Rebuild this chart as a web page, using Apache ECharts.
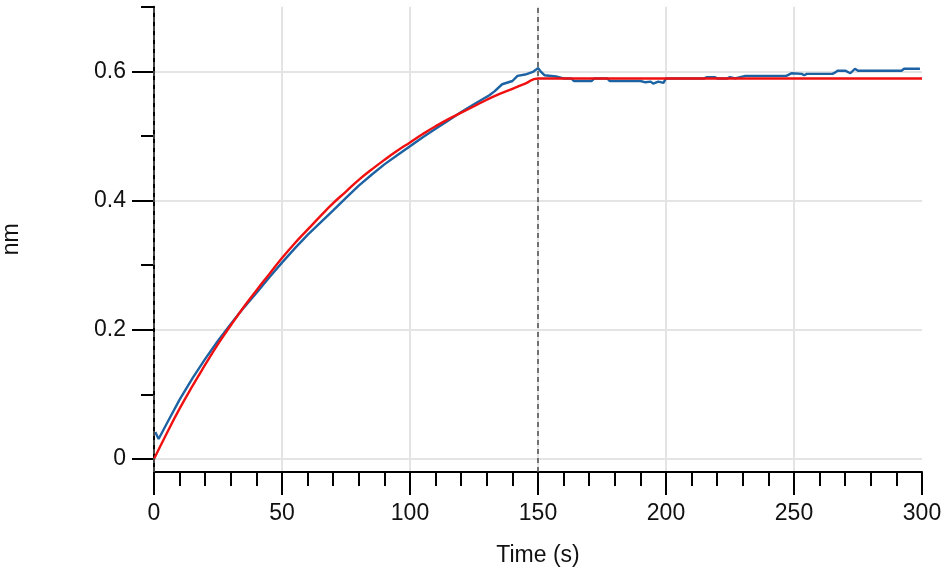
<!DOCTYPE html>
<html>
<head>
<meta charset="utf-8">
<script src="https://cdn.jsdelivr.net/npm/echarts@6/dist/echarts.min.js"></script>
<style>html,body{margin:0;padding:0;background:#fff}#c{width:952px;height:572px}</style>
</head>
<body>
<div id="c"></div>
<script>
// Measured response (blue)
const measuredTimes = [0.5,1.8,5,10,15,20,25,30,35,40,45,50,55,60,65,70,75,80,85,90,95,100,105,110,115,120,125,128,131,133,136,140,142,145,148,150,
  151,152.5,157,160,163,164,171,172,177,178,190,192,194,195,197,199,200,215,216,219,220,224,225,227,231,247,248,249,253,254,255,265,266,267,270,272,273.8,275,285,285.5,292,293,299.2];
const measuredValues = [0.042,0.031,0.055,0.092,0.125,0.155,0.183,0.209,0.234,0.257,0.281,0.304,0.326,0.347,0.366,0.385,0.404,0.423,0.440,0.456,0.470,0.484,0.498,0.511,0.524,0.537,0.549,0.556,0.563,0.569,0.580,0.585,0.593,0.595,0.599,0.605,
  0.600,0.594,0.592,0.589,0.589,0.585,0.585,0.589,0.589,0.585,0.585,0.583,0.584,0.581,0.584,0.582,0.589,0.589,0.591,0.591,0.589,0.589,0.591,0.589,0.593,0.593,0.595,0.597,0.596,0.594,0.596,0.596,0.598,0.601,0.601,0.597,0.604,0.601,0.601,0.604,0.601,0.604,0.604];
// Fitted curve (red)
const fitTimes = [0,5,10,15,20,25,30,35,40,45,50,55,60,65,70,75,80,85,90,95,100,105,110,115,120,125,130,135,140,145,150,300];
const fitValues = [0.000,0.040,0.078,0.113,0.146,0.178,0.207,0.235,0.261,0.286,0.311,0.334,0.355,0.376,0.396,0.414,0.432,0.448,0.463,0.477,0.490,0.503,0.515,0.526,0.536,0.546,0.556,0.565,0.573,0.581,0.589,0.589];
// Axis ticks
const yMajorTicks = [0,0.2,0.4,0.6];
const yMinorTicks = [0.1,0.3,0.5,0.7];
const stepMarkers = [0,150];

const pair = (t, v) => t.map((x, i) => [x, v[i]]);
const FONT = 'Liberation Sans';
const FS = 23;
const chart = echarts.init(document.getElementById('c'), null, {renderer: 'canvas'});
chart.setOption({
  animation: false,
  backgroundColor: '#ffffff',
  grid: {left: 154, right: 30, top: 6.7, bottom: 100, containLabel: false, outerBoundsMode: 'none'},
  xAxis: {
    type: 'value', min: 0, max: 300, interval: 50,
    name: 'Time (s)', nameLocation: 'middle', nameGap: 72,
    nameTextStyle: {fontFamily: FONT, fontSize: FS, color: '#111'},
    axisLine: {show: true, onZero: false, lineStyle: {color: '#000', width: 2}},
    axisTick: {show: true, length: 23, lineStyle: {color: '#000', width: 2}},
    minorTick: {show: true, splitNumber: 5, length: 14, lineStyle: {color: '#000', width: 2}},
    axisLabel: {margin: 30, fontFamily: FONT, fontSize: FS, color: '#111'},
    splitLine: {show: true, showMinLine: false, showMaxLine: false, lineStyle: {color: '#e4e4e4', width: 2}},
    minorSplitLine: {show: false}
  },
  yAxis: [{
    type: 'value', min: -0.02, max: 0.7,
    name: 'nm', nameLocation: 'middle', nameGap: 131, nameRotate: 90,
    nameTextStyle: {fontFamily: FONT, fontSize: FS, color: '#111'},
    axisLine: {show: true, onZero: false, lineStyle: {color: '#000', width: 2}},
    axisTick: {show: true, length: 22, customValues: yMajorTicks, lineStyle: {color: '#000', width: 2}},
    axisLabel: {margin: 28, customValues: yMajorTicks, fontFamily: FONT, fontSize: FS, color: '#111',
      formatter: v => String(Math.round(v * 10) / 10)},
    splitLine: {show: true, lineStyle: {color: '#e4e4e4', width: 2}}
  }, {
    type: 'value', min: -0.02, max: 0.7, position: 'left', offset: 0,
    axisLine: {show: false, onZero: false},
    axisTick: {show: true, length: 13, customValues: yMinorTicks, lineStyle: {color: '#000', width: 2}},
    axisLabel: {show: false},
    splitLine: {show: false}
  }],
  series: [{
    type: 'line', name: 'Measured', data: pair(measuredTimes, measuredValues),
    showSymbol: false, smooth: false,
    lineStyle: {color: '#1d62a2', width: 2.4}, itemStyle: {color: '#1d62a2'},
    markLine: {
      silent: true, symbol: 'none', label: {show: false},
      lineStyle: {color: '#555', type: [5, 4], width: 1.6},
      data: stepMarkers.map(v => ({xAxis: v}))
    },
    z: 3
  }, {
    type: 'line', name: 'Fit', data: pair(fitTimes, fitValues),
    showSymbol: false, smooth: true,
    lineStyle: {color: '#f01010', width: 2.4}, itemStyle: {color: '#f01010'},
    z: 4
  }]
});
</script>
</body>
</html>
